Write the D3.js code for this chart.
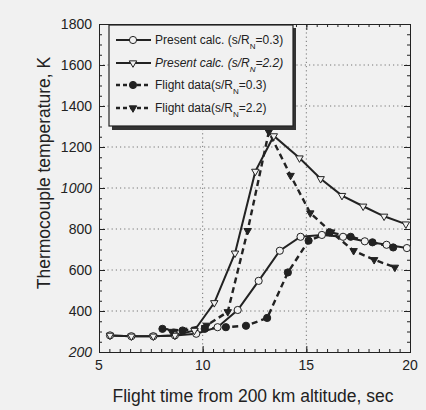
<!DOCTYPE html>
<html lang="en">
<head>
<meta charset="UTF-8">
<title>Thermocouple temperature</title>
<style>
  body { margin: 0; background: #f1f1f1; }
  svg { display: block; }
</style>
</head>
<body>
<script src="https://d3js.org/d3.v7.min.js"></script>
<script>
// data
const calc03 = [[5.53, 281], [6.56, 277], [7.62, 277], [8.66, 281], [9.69, 289], [10.72, 321], [11.69, 405],
  [12.70, 547], [13.72, 694], [14.72, 762], [15.75, 771], [16.77, 762], [17.82, 740], [18.87, 723], [19.85, 707]];
const calc22 = [[5.53, 281], [6.56, 277], [7.62, 277], [8.66, 281], [9.6, 305], [10.56, 440], [11.56, 682],
  [12.54, 1081], [13.43, 1254], [14.67, 1146], [15.69, 1045], [16.72, 963], [17.74, 911], [18.75, 862], [19.80, 824]];
const flight03 = [[8.06, 313], [9.03, 305], [10.1, 313], [11.12, 321], [12.09, 328], [13.11, 366], [14.11, 588],
  [15.11, 743], [16.12, 784], [17.14, 762], [18.19, 735], [19.19, 710]];
const flight22 = [[8.5, 300], [10.2, 330], [11.21, 396], [12.17, 792], [13.19, 1274], [14.24, 1061], [15.19, 878],
  [16.2, 785], [17.28, 694], [18.27, 650], [19.27, 613]];

const xTicks = [5, 10, 15, 20];
const yTicks = [200, 400, 600, 800, 1000, 1200, 1400, 1600, 1800];
const legendNames = ["Present calc. (s/R", "Present calc. (s/R", "Flight data(s/R", "Flight data(s/R"];
const legendTails = ["=0.3)", "=2.2)", "=0.3)", "=2.2)"];

const width = 426, height = 410;
const ink = "#222";
const bg = "#f1f1f1";

const svg = d3.select("body").append("svg")
  .attr("width", width).attr("height", height)
  .style("font-family", "'Liberation Sans', Arial, sans-serif");

const x = d3.scaleLinear().domain([5, 20]).range([99, 410]);
const y = d3.scaleLinear().domain([200, 1800]).range([352, 24]);

// grid
svg.append("g").selectAll("line.gx")
  .data(xTicks.slice(1, -1))
  .join("line")
  .attr("x1", d => x(d)).attr("x2", d => x(d))
  .attr("y1", y(1800)).attr("y2", y(200))
  .attr("stroke", "#555").attr("stroke-width", 0.8).attr("stroke-dasharray", "1.2,3");
svg.append("g").selectAll("line.gy")
  .data(yTicks.slice(1, -1))
  .join("line")
  .attr("y1", d => y(d)).attr("y2", d => y(d))
  .attr("x1", x(5)).attr("x2", x(20))
  .attr("stroke", "#555").attr("stroke-width", 0.8).attr("stroke-dasharray", "1.2,3");

// axes with inward ticks on every side
const minorX = d3.range(5, 20.01, 0.5);
const minorY = d3.range(200, 1800.1, 50);
svg.append("g").attr("transform", `translate(0,${y(200)})`)
  .call(d3.axisTop(x).tickValues(minorX).tickSize(3).tickFormat(""));
svg.append("g").attr("transform", `translate(0,${y(1800)})`)
  .call(d3.axisBottom(x).tickValues(minorX).tickSize(3).tickFormat(""));
svg.append("g").attr("transform", `translate(${x(5)},0)`)
  .call(d3.axisRight(y).tickValues(minorY).tickSize(3).tickFormat(""));
svg.append("g").attr("transform", `translate(${x(20)},0)`)
  .call(d3.axisLeft(y).tickValues(minorY).tickSize(3).tickFormat(""));
svg.append("g").attr("transform", `translate(0,${y(200)})`)
  .call(d3.axisTop(x).tickValues(xTicks).tickSize(6).tickFormat(""));
svg.append("g").attr("transform", `translate(0,${y(1800)})`)
  .call(d3.axisBottom(x).tickValues(xTicks).tickSize(6).tickFormat(""));
svg.append("g").attr("transform", `translate(${x(5)},0)`)
  .call(d3.axisRight(y).tickValues(yTicks).tickSize(6).tickFormat(""));
svg.append("g").attr("transform", `translate(${x(20)},0)`)
  .call(d3.axisLeft(y).tickValues(yTicks).tickSize(6).tickFormat(""));
svg.selectAll(".domain, .tick line").attr("stroke", ink).attr("stroke-width", 1);

// tick labels
svg.append("g").selectAll("text")
  .data(xTicks)
  .join("text")
  .attr("x", d => x(d)).attr("y", 370)
  .attr("text-anchor", "middle")
  .attr("font-size", 14).attr("fill", ink)
  .text(d => d);
svg.append("g").selectAll("text")
  .data(yTicks)
  .join("text")
  .attr("x", 92).attr("y", d => y(d) + 5)
  .attr("text-anchor", "end")
  .attr("font-size", 14).attr("fill", ink)
  .attr("font-style", d => (d === 200 || d === 1000) ? "italic" : "normal")
  .text(d => d);

// axis titles
svg.append("text")
  .attr("x", 253).attr("y", 402)
  .attr("text-anchor", "middle")
  .attr("font-size", 17.5).attr("fill", ink)
  .text("Flight time from 200 km altitude, sec");
svg.append("text")
  .attr("transform", `translate(50,${(24 + 318) / 2 + 2}) rotate(-90)`)
  .attr("text-anchor", "middle")
  .attr("font-size", 17.5).attr("fill", ink)
  .text("Thermocouple temperature, K");

// lines
const line = d3.line().x(d => x(d[0])).y(d => y(d[1]));
const series = [
  { data: calc03, dash: null, marker: "circle", fill: bg },
  { data: calc22, dash: null, marker: "tri", fill: bg },
  { data: flight03, dash: "6,4", marker: "circle", fill: ink },
  { data: flight22, dash: "6,4", marker: "tri", fill: ink }
];
const tri = d3.symbol().type(d3.symbolTriangle).size(24);

function marker(g, s, px, py) {
  if (s.marker === "circle") {
    g.append("circle").attr("cx", px).attr("cy", py).attr("r", 3.6)
      .attr("fill", s.fill).attr("stroke", ink).attr("stroke-width", 1);
  } else {
    g.append("path").attr("d", tri())
      .attr("transform", `translate(${px},${py}) rotate(180)`)
      .attr("fill", s.fill).attr("stroke", ink).attr("stroke-width", 1);
  }
}

series.forEach(s => {
  svg.append("path")
    .attr("d", line(s.data))
    .attr("fill", "none").attr("stroke", ink)
    .attr("stroke-width", s.dash ? 2.4 : 2)
    .attr("stroke-dasharray", s.dash);
});
series.forEach(s => {
  const g = svg.append("g");
  s.data.forEach(d => marker(g, s, x(d[0]), y(d[1])));
});

// legend
const lg = svg.append("g");
lg.append("rect").attr("x", 112).attr("y", 28).attr("width", 184).attr("height", 102).attr("fill", "#333");
lg.append("rect").attr("x", 109).attr("y", 25).attr("width", 184).attr("height", 101)
  .attr("fill", bg).attr("stroke", ink).attr("stroke-width", 1.2);
const rowsY = [40, 63, 85, 108];
series.forEach((s, i) => {
  const ry = rowsY[i];
  lg.append("line").attr("x1", 116).attr("x2", 151).attr("y1", ry).attr("y2", ry)
    .attr("stroke", ink).attr("stroke-width", s.dash ? 2.4 : 2)
    .attr("stroke-dasharray", s.dash ? "4,3" : null);
  marker(lg, s, 133, ry);
  const t = lg.append("text").attr("x", 155).attr("y", ry + 4)
    .attr("font-size", 12).attr("fill", ink)
    .attr("font-style", i === 1 ? "italic" : "normal");
  t.append("tspan").text(legendNames[i]);
  t.append("tspan").attr("font-size", 8).attr("dy", 5).text("N");
  t.append("tspan").attr("dy", -5).text(legendTails[i]);
});
</script>
</body>
</html>
